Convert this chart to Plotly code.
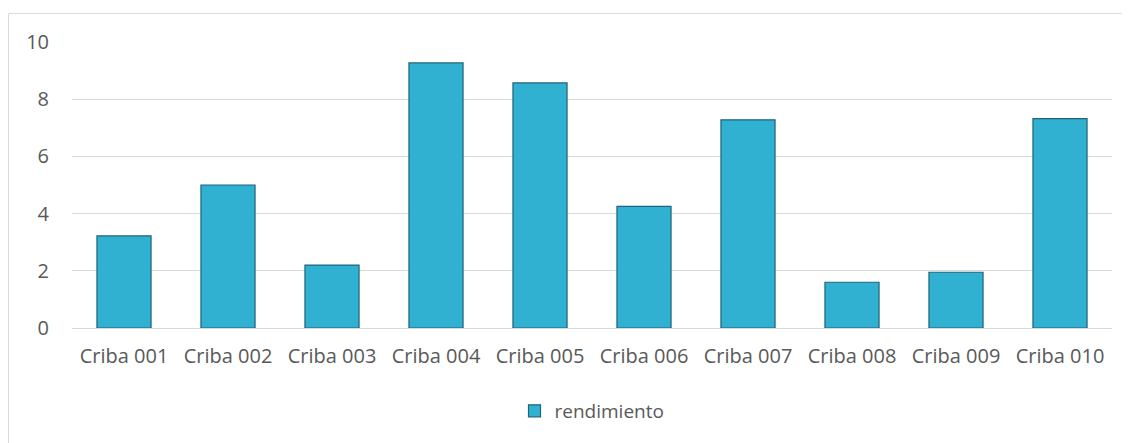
import plotly.graph_objects as go

cribas = ["Criba 001", "Criba 002", "Criba 003", "Criba 004", "Criba 005",
          "Criba 006", "Criba 007", "Criba 008", "Criba 009", "Criba 010"]
rendimiento = [3.22, 5.0, 2.2, 9.27, 8.57, 4.25, 7.28, 1.6, 1.95, 7.32]
y_ticks = [0, 2, 4, 6, 8, 10]

fig = go.Figure()

fig.add_trace(
    go.Bar(
        x=cribas,
        y=rendimiento,
        name="rendimiento",
        marker=dict(color="#31b1d1", line=dict(color="#1f6478", width=1.2)),
    )
)

fig.update_layout(
    width=1130,
    height=443,
    paper_bgcolor="white",
    plot_bgcolor="white",
    font=dict(family="Open Sans", size=20, color="#595959"),
    bargap=0.48,
    margin=dict(l=64, r=26, t=34, b=123, autoexpand=False),
    showlegend=True,
    legend=dict(
        orientation="h",
        x=0.5, xanchor="center",
        y=-0.29, yanchor="middle",
        font=dict(size=19, color="#595959"),
    ),
    shapes=[
        dict(type="rect", xref="paper", yref="paper",
             x0=-0.061, x1=1.05, y0=-0.45, y1=1.1,
             line=dict(color="#d9d9d9", width=1), layer="below"),
    ],
)

fig.update_xaxes(showgrid=False, showline=False, ticks="", ticklabelstandoff=14,
                 tickfont=dict(size=20), automargin=False)
fig.update_yaxes(range=[0, 10], tickvals=y_ticks, gridcolor="#d9d9d9",
                 zeroline=True, zerolinecolor="#d9d9d9", zerolinewidth=1,
                 showline=False, ticks="", ticklabelstandoff=22,
                 tickfont=dict(size=20), automargin=False)

fig.write_html("out.html")
